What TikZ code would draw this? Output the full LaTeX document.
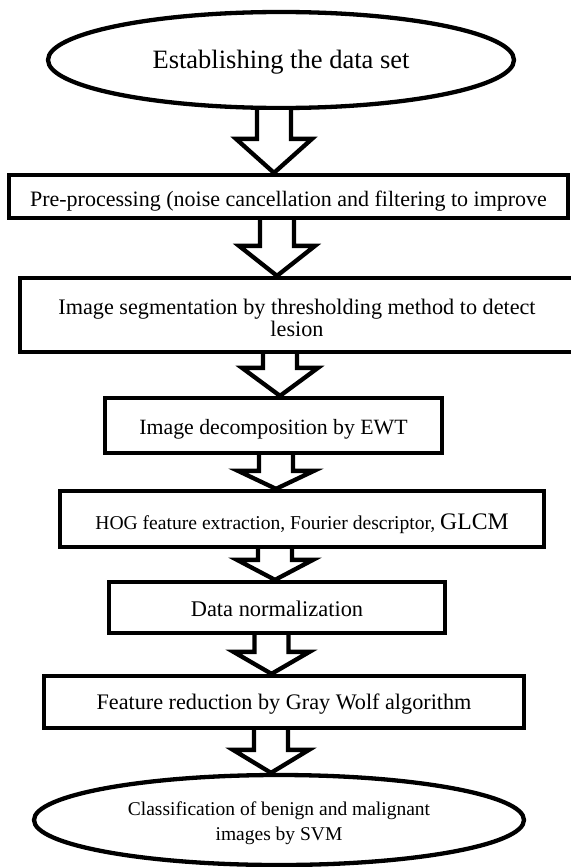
\documentclass[tikz,border=0pt]{standalone}
\usepackage{fontspec}
\setmainfont{Liberation Serif}
\usetikzlibrary{positioning, shapes.geometric, calc}

\tikzset{
  terminal/.style={ellipse, draw, line width=4.3pt, inner sep=0pt, align=center},
  stagebox/.style={rectangle, draw, line width=4.3pt, inner sep=0pt, align=center},
  hollowarrow/.style={draw, line width=4.3pt, line join=miter, fill=white},
}
% text set a little below the middle of its box
\newcommand{\lowered}[2]{\raisebox{-#1}[\height][\depth]{\begin{tabular}{@{}c@{}}#2\end{tabular}}}

% block arrow: from node, to node, x of its axis, head length
\newcommand{\flowarrow}[4]{%
  \draw[hollowarrow] let \p1=(#1.south), \p2=(#2.north) in
    (#3pt-17pt,\y1) -- (#3pt-17pt,\y2+#4pt) -- (#3pt-38pt,\y2+#4pt) -- (#3pt,\y2)
    -- (#3pt+38pt,\y2+#4pt) -- (#3pt+17pt,\y2+#4pt) -- (#3pt+17pt,\y1);
}

\begin{document}
\begin{tikzpicture}[x=1pt, y=1pt]
  \useasboundingbox (0,0) rectangle (570,-867);

  \node[terminal, minimum width=466pt, minimum height=96pt,
        font=\fontsize{26.5}{30}\selectfont]
       (dataset) at (281,-60) {\lowered{3pt}{Establishing the data set}};
  \node[stagebox, minimum width=559pt, minimum height=43pt,
        font=\fontsize{22}{24}\selectfont]
       (preproc) at (288.5,-196.5) {\lowered{5.5pt}{Pre-processing (noise cancellation and filtering to improve}};
  \node[stagebox, minimum width=554pt, minimum height=74pt,
        font=\fontsize{22.2}{22}\selectfont]
       (segment) at (297,-315) {\lowered{6pt}{Image segmentation by thresholding method to detect\\lesion}};
  \node[stagebox, minimum width=337pt, minimum height=55pt,
        font=\fontsize{21.8}{24}\selectfont]
       (ewt) at (273.5,-425.5) {\lowered{4.5pt}{Image decomposition by EWT}};
  \node[stagebox, minimum width=484pt, minimum height=56pt,
        font=\fontsize{19.6}{22}\selectfont]
       (features) at (302,-519) {\lowered{6pt}{HOG feature extraction, Fourier descriptor, {\fontsize{23.7}{24}\selectfont GLCM}}};
  \node[stagebox, minimum width=336pt, minimum height=51pt,
        font=\fontsize{22.4}{24}\selectfont]
       (normal) at (277,-607.5) {\lowered{4.5pt}{Data normalization}};
  \node[stagebox, minimum width=480pt, minimum height=52pt,
        font=\fontsize{22.2}{24}\selectfont]
       (graywolf) at (284,-702) {\lowered{3pt}{Feature reduction by Gray Wolf algorithm}};
  \node[terminal, minimum width=490pt, minimum height=90pt,
        font=\fontsize{19.5}{25}\selectfont]
       (svm) at (279,-820) {\lowered{2.5pt}{Classification of benign and malignant\\images by SVM}};

  \flowarrow{dataset}{preproc}{274}{34}
  \flowarrow{preproc}{segment}{277}{30}
  \flowarrow{segment}{ewt}{280}{28}
  \flowarrow{ewt}{features}{276}{18}
  \flowarrow{features}{normal}{275}{20}
  \flowarrow{normal}{graywolf}{271.5}{22}
  \flowarrow{graywolf}{svm}{271}{23}
\end{tikzpicture}
\end{document}
